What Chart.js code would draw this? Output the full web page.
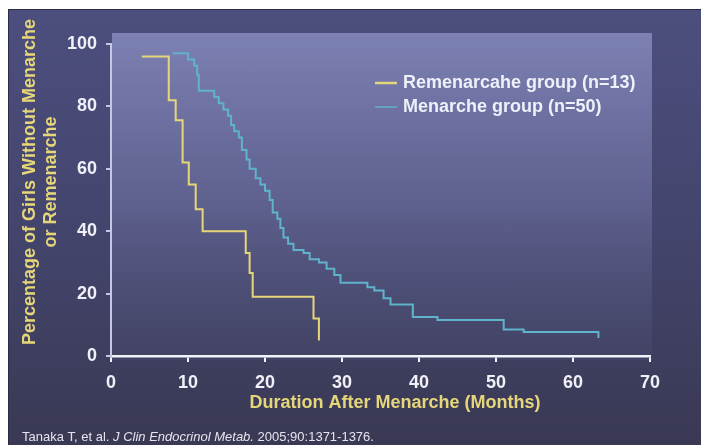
<!DOCTYPE html>
<html>
<head>
<meta charset="utf-8">
<script src="https://cdn.jsdelivr.net/npm/chart.js@4"></script>
<style>
  html, body { margin: 0; padding: 0; background: #ffffff; }
  #wrap { position: relative; width: 701px; height: 445px; overflow: hidden; }
  #slide {
    position: absolute; left: 8px; top: 9px; width: 693px; height: 436px;
    background: linear-gradient(180deg, #4c4e7e 0%, #45466f 45%, #393954 100%);
    border-left: 1px solid #2c2c44; border-top: 1px solid #2c2c44;
  }
  #chart { position: absolute; left: 0; top: 0; }
</style>
</head>
<body>
<div id="wrap">
  <div id="slide"></div>
  <canvas id="chart" width="701" height="445"></canvas>
</div>
<script>
// ===== DATA =====
const remLabel = "Remenarcahe group (n=13)";
const remMonths = [4, 7.5, 8.4, 9.3, 10.1, 11, 11.9, 17.5, 18, 18.4, 26.3, 27];
const remPct    = [96, 82, 75.6, 62, 55, 47, 40, 33, 26.6, 19, 12, 5];

const menLabel = "Menarche group (n=50)";
const menMonths = [8, 10, 10.8, 11.2, 11.4, 13.4, 14, 14.6, 15.2, 15.6, 16, 16.6, 17, 17.6, 18,
                   18.8, 19.4, 20, 20.6, 21, 21.6, 22, 22.4, 23, 23.7, 25, 25.8, 27, 28, 29,
                   29.8, 33.3, 34.2, 35.4, 36.3, 39.2, 42.4, 51, 53.6, 63.3];
const menPct    = [97, 95, 93, 90, 85, 83, 81, 79, 77, 74, 72, 70, 66, 63, 60,
                   57, 55, 53, 50, 46, 44, 41, 38, 36, 34, 33, 31, 30, 28, 26,
                   23.5, 22, 21, 18.5, 16.5, 12.5, 11.5, 8.5, 7.7, 5.8];

const xTicks = [0, 10, 20, 30, 40, 50, 60, 70];
const yTicks = [0, 20, 40, 60, 80, 100];

const xTitle = "Duration After Menarche (Months)";
const yTitle = ["Percentage of Girls Without Menarche", "or Remenarche"];
const source = ["Tanaka T, et al. ", "J Clin Endocrinol Metab.", " 2005;90:1371-1376."];

// ===== STYLE =====
const yellow = "#e6d67a";
const blue = "#5fb3cb";
const fam = "Arial, 'Liberation Sans', sans-serif";
const tickFont = { family: fam, size: 18, weight: "bold" };

function pairs(xs, ys) {
  return xs.map((x, i) => ({ x: x, y: ys[i] }));
}

// ===== PLUGINS =====
const panelPlugin = {
  id: "panel",
  beforeDraw(chart) {
    const { ctx, chartArea: a } = chart;
    const top = a.top - 11, bottom = a.bottom + 4, left = a.left + 1, right = a.right + 2;
    ctx.save();
    const g = ctx.createLinearGradient(0, top, 0, bottom);
    g.addColorStop(0, "rgba(128,132,182,0.95)");
    g.addColorStop(0.5, "rgba(105,108,155,0.75)");
    g.addColorStop(1, "rgba(80,82,120,0.25)");
    ctx.fillStyle = g;
    ctx.fillRect(left, top, right - left, bottom - top);
    ctx.restore();
  }
};

const textPlugin = {
  id: "texts",
  afterDraw(chart) {
    const { ctx, chartArea: a } = chart;
    ctx.save();

    // legend
    const items = chart.data.datasets;
    ctx.font = "bold 18px " + fam;
    ctx.textBaseline = "middle";
    ctx.textAlign = "left";
    items.forEach((ds, i) => {
      const y = a.top + 39 + i * 24;
      const x0 = a.left + 264;
      ctx.strokeStyle = ds.borderColor;
      ctx.lineWidth = i === 0 ? 2.5 : 1.5;
      ctx.beginPath();
      ctx.moveTo(x0, y);
      ctx.lineTo(x0 + 22, y);
      ctx.stroke();
      ctx.fillStyle = "#eef0fa";
      ctx.fillText(ds.label, x0 + 28, y);
    });

    // x title
    ctx.fillStyle = yellow;
    ctx.font = "bold 18px " + fam;
    ctx.textAlign = "center";
    ctx.fillText(xTitle, a.left + 284, a.bottom + 47);

    // y title (two lines, rotated)
    ctx.save();
    ctx.translate(30, 182);
    ctx.rotate(-Math.PI / 2);
    ctx.fillText(yTitle[0], 0, 0);
    ctx.fillText(yTitle[1], 0, 21);
    ctx.restore();

    // source line
    ctx.fillStyle = "#e4e4ee";
    ctx.textAlign = "left";
    let x = 22;
    source.forEach((part, i) => {
      ctx.font = (i === 1 ? "italic " : "") + "13px " + fam;
      ctx.fillText(part, x, 437);
      x += ctx.measureText(part).width;
    });

    ctx.restore();
  }
};

// ===== CHART =====
const ctx = document.getElementById("chart").getContext("2d");

const chart = new Chart(ctx, {
  type: "line",
  data: {
    datasets: [
      {
        label: remLabel,
        data: pairs(remMonths, remPct),
        borderColor: yellow,
        borderWidth: 2,
        stepped: true,
        pointRadius: 0,
        fill: false
      },
      {
        label: menLabel,
        data: pairs(menMonths, menPct),
        borderColor: blue,
        borderWidth: 2,
        stepped: true,
        pointRadius: 0,
        fill: false
      }
    ]
  },
  options: {
    responsive: false,
    animation: false,
    events: [],
    layout: { padding: { left: 0, right: 51, top: 44, bottom: 0 } },
    plugins: {
      legend: { display: false },
      tooltip: { enabled: false }
    },
    scales: {
      x: {
        type: "linear",
        min: 0,
        max: 70,
        afterBuildTicks(scale) { scale.ticks = xTicks.map(v => ({ value: v })); },
        afterFit(scale) { scale.height = 89; },
        border: { display: true, color: "#f2f2fa", width: 2.5 },
        grid: { drawOnChartArea: false, drawTicks: true, tickLength: 6, color: "#f2f2fa", lineWidth: 2 },
        ticks: { color: "#f0f0f8", font: tickFont, padding: 10, maxRotation: 0 }
      },
      y: {
        min: 0,
        max: 100,
        afterBuildTicks(scale) { scale.ticks = yTicks.map(v => ({ value: v })); },
        afterFit(scale) { scale.width = 111; },
        border: { display: true, color: "#c4c7e6", width: 2 },
        grid: { drawOnChartArea: false, drawTicks: true, tickLength: 5, color: "#c4c7e6", lineWidth: 2 },
        ticks: { color: "#f0f0f8", font: tickFont, padding: 9 }
      }
    }
  },
  plugins: [panelPlugin, textPlugin]
});
</script>
</body>
</html>
